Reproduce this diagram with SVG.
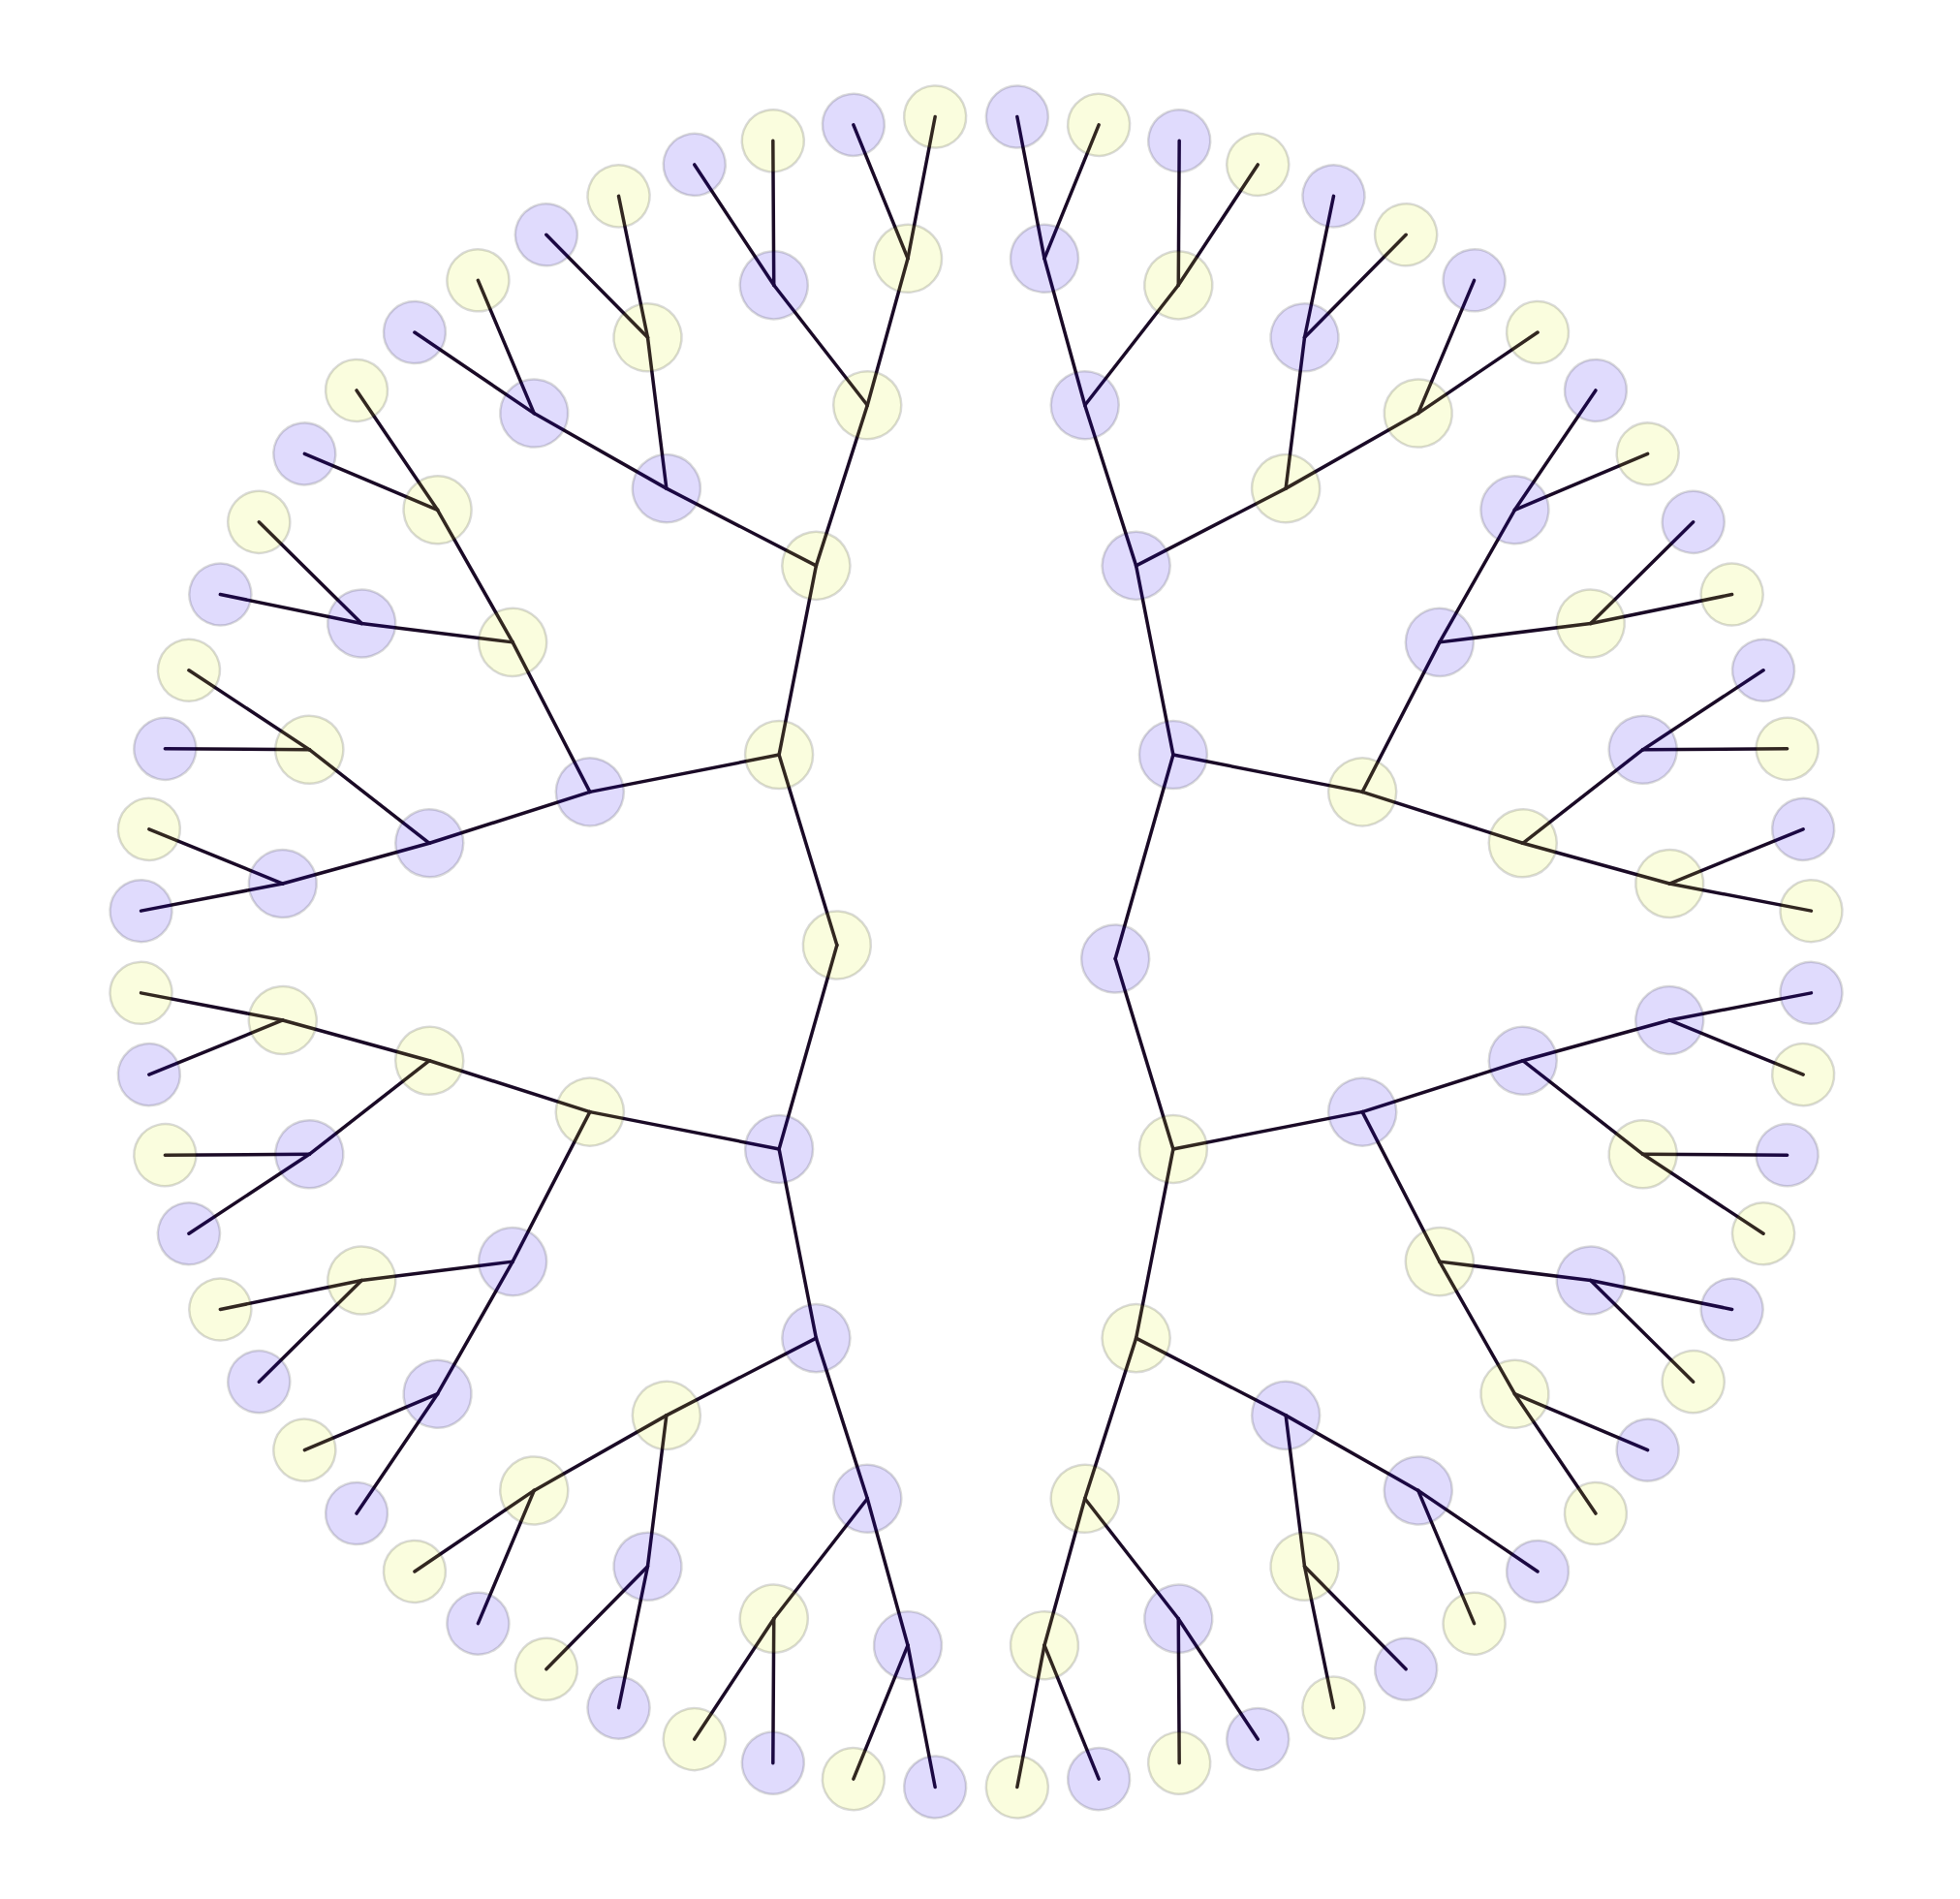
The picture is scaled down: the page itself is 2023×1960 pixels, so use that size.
<svg xmlns="http://www.w3.org/2000/svg" width="2023" height="1960" viewBox="0 0 2023 1960">
<style>
.links line{stroke:#1a0a26;stroke-width:3.5;stroke-linecap:round;fill:none}
.node circle{stroke:#000;stroke-opacity:0.15;stroke-width:2.5}
.y circle{fill:#d8f000;fill-opacity:0.13}
.p circle{fill:#2000f0;fill-opacity:0.14}
</style>
<rect width="2023" height="1960" fill="#fff"/>
<g transform="translate(1007.5 982.5)">
<g id="links" class="links">
<line transform="rotate(-45)" x1="0" y1="-287.67" x2="-96.59" y2="-106.57"/>
<line transform="rotate(-135)" x1="0" y1="-287.67" x2="106.57" y2="-96.59"/>
<line transform="rotate(-225)" x1="0" y1="-287.67" x2="-96.59" y2="-106.57"/>
<line transform="rotate(-315)" x1="0" y1="-287.67" x2="106.57" y2="-96.59"/>
<line transform="rotate(-22.5)" x1="0" y1="-431.5" x2="-110.09" y2="-265.77"/>
<line transform="rotate(-67.5)" x1="0" y1="-431.5" x2="110.09" y2="-265.77"/>
<line transform="rotate(-112.5)" x1="0" y1="-431.5" x2="-110.09" y2="-265.77"/>
<line transform="rotate(-157.5)" x1="0" y1="-431.5" x2="110.09" y2="-265.77"/>
<line transform="rotate(-202.5)" x1="0" y1="-431.5" x2="-110.09" y2="-265.77"/>
<line transform="rotate(-247.5)" x1="0" y1="-431.5" x2="110.09" y2="-265.77"/>
<line transform="rotate(-292.5)" x1="0" y1="-431.5" x2="-110.09" y2="-265.77"/>
<line transform="rotate(-337.5)" x1="0" y1="-431.5" x2="110.09" y2="-265.77"/>
<line transform="rotate(-11.25)" x1="0" y1="-575.33" x2="-84.18" y2="-423.21"/>
<line transform="rotate(-33.75)" x1="0" y1="-575.33" x2="84.18" y2="-423.21"/>
<line transform="rotate(-56.25)" x1="0" y1="-575.33" x2="-84.18" y2="-423.21"/>
<line transform="rotate(-78.75)" x1="0" y1="-575.33" x2="84.18" y2="-423.21"/>
<line transform="rotate(-101.25)" x1="0" y1="-575.33" x2="-84.18" y2="-423.21"/>
<line transform="rotate(-123.75)" x1="0" y1="-575.33" x2="84.18" y2="-423.21"/>
<line transform="rotate(-146.25)" x1="0" y1="-575.33" x2="-84.18" y2="-423.21"/>
<line transform="rotate(-168.75)" x1="0" y1="-575.33" x2="84.18" y2="-423.21"/>
<line transform="rotate(-191.25)" x1="0" y1="-575.33" x2="-84.18" y2="-423.21"/>
<line transform="rotate(-213.75)" x1="0" y1="-575.33" x2="84.18" y2="-423.21"/>
<line transform="rotate(-236.25)" x1="0" y1="-575.33" x2="-84.18" y2="-423.21"/>
<line transform="rotate(-258.75)" x1="0" y1="-575.33" x2="84.18" y2="-423.21"/>
<line transform="rotate(-281.25)" x1="0" y1="-575.33" x2="-84.18" y2="-423.21"/>
<line transform="rotate(-303.75)" x1="0" y1="-575.33" x2="84.18" y2="-423.21"/>
<line transform="rotate(-326.25)" x1="0" y1="-575.33" x2="-84.18" y2="-423.21"/>
<line transform="rotate(-348.75)" x1="0" y1="-575.33" x2="84.18" y2="-423.21"/>
<line transform="rotate(-5.625)" x1="0" y1="-719.17" x2="-56.39" y2="-572.56"/>
<line transform="rotate(-16.875)" x1="0" y1="-719.17" x2="56.39" y2="-572.56"/>
<line transform="rotate(-28.125)" x1="0" y1="-719.17" x2="-56.39" y2="-572.56"/>
<line transform="rotate(-39.375)" x1="0" y1="-719.17" x2="56.39" y2="-572.56"/>
<line transform="rotate(-50.625)" x1="0" y1="-719.17" x2="-56.39" y2="-572.56"/>
<line transform="rotate(-61.875)" x1="0" y1="-719.17" x2="56.39" y2="-572.56"/>
<line transform="rotate(-73.125)" x1="0" y1="-719.17" x2="-56.39" y2="-572.56"/>
<line transform="rotate(-84.375)" x1="0" y1="-719.17" x2="56.39" y2="-572.56"/>
<line transform="rotate(-95.625)" x1="0" y1="-719.17" x2="-56.39" y2="-572.56"/>
<line transform="rotate(-106.875)" x1="0" y1="-719.17" x2="56.39" y2="-572.56"/>
<line transform="rotate(-118.125)" x1="0" y1="-719.17" x2="-56.39" y2="-572.56"/>
<line transform="rotate(-129.375)" x1="0" y1="-719.17" x2="56.39" y2="-572.56"/>
<line transform="rotate(-140.625)" x1="0" y1="-719.17" x2="-56.39" y2="-572.56"/>
<line transform="rotate(-151.875)" x1="0" y1="-719.17" x2="56.39" y2="-572.56"/>
<line transform="rotate(-163.125)" x1="0" y1="-719.17" x2="-56.39" y2="-572.56"/>
<line transform="rotate(-174.375)" x1="0" y1="-719.17" x2="56.39" y2="-572.56"/>
<line transform="rotate(-185.625)" x1="0" y1="-719.17" x2="-56.39" y2="-572.56"/>
<line transform="rotate(-196.875)" x1="0" y1="-719.17" x2="56.39" y2="-572.56"/>
<line transform="rotate(-208.125)" x1="0" y1="-719.17" x2="-56.39" y2="-572.56"/>
<line transform="rotate(-219.375)" x1="0" y1="-719.17" x2="56.39" y2="-572.56"/>
<line transform="rotate(-230.625)" x1="0" y1="-719.17" x2="-56.39" y2="-572.56"/>
<line transform="rotate(-241.875)" x1="0" y1="-719.17" x2="56.39" y2="-572.56"/>
<line transform="rotate(-253.125)" x1="0" y1="-719.17" x2="-56.39" y2="-572.56"/>
<line transform="rotate(-264.375)" x1="0" y1="-719.17" x2="56.39" y2="-572.56"/>
<line transform="rotate(-275.625)" x1="0" y1="-719.17" x2="-56.39" y2="-572.56"/>
<line transform="rotate(-286.875)" x1="0" y1="-719.17" x2="56.39" y2="-572.56"/>
<line transform="rotate(-298.125)" x1="0" y1="-719.17" x2="-56.39" y2="-572.56"/>
<line transform="rotate(-309.375)" x1="0" y1="-719.17" x2="56.39" y2="-572.56"/>
<line transform="rotate(-320.625)" x1="0" y1="-719.17" x2="-56.39" y2="-572.56"/>
<line transform="rotate(-331.875)" x1="0" y1="-719.17" x2="56.39" y2="-572.56"/>
<line transform="rotate(-343.125)" x1="0" y1="-719.17" x2="-56.39" y2="-572.56"/>
<line transform="rotate(-354.375)" x1="0" y1="-719.17" x2="56.39" y2="-572.56"/>
<line transform="rotate(-2.8125)" x1="0" y1="-863" x2="-35.29" y2="-718.3"/>
<line transform="rotate(-8.4375)" x1="0" y1="-863" x2="35.29" y2="-718.3"/>
<line transform="rotate(-14.0625)" x1="0" y1="-863" x2="-35.29" y2="-718.3"/>
<line transform="rotate(-19.6875)" x1="0" y1="-863" x2="35.29" y2="-718.3"/>
<line transform="rotate(-25.3125)" x1="0" y1="-863" x2="-35.29" y2="-718.3"/>
<line transform="rotate(-30.9375)" x1="0" y1="-863" x2="35.29" y2="-718.3"/>
<line transform="rotate(-36.5625)" x1="0" y1="-863" x2="-35.29" y2="-718.3"/>
<line transform="rotate(-42.1875)" x1="0" y1="-863" x2="35.29" y2="-718.3"/>
<line transform="rotate(-47.8125)" x1="0" y1="-863" x2="-35.29" y2="-718.3"/>
<line transform="rotate(-53.4375)" x1="0" y1="-863" x2="35.29" y2="-718.3"/>
<line transform="rotate(-59.0625)" x1="0" y1="-863" x2="-35.29" y2="-718.3"/>
<line transform="rotate(-64.6875)" x1="0" y1="-863" x2="35.29" y2="-718.3"/>
<line transform="rotate(-70.3125)" x1="0" y1="-863" x2="-35.29" y2="-718.3"/>
<line transform="rotate(-75.9375)" x1="0" y1="-863" x2="35.29" y2="-718.3"/>
<line transform="rotate(-81.5625)" x1="0" y1="-863" x2="-35.29" y2="-718.3"/>
<line transform="rotate(-87.1875)" x1="0" y1="-863" x2="35.29" y2="-718.3"/>
<line transform="rotate(-92.8125)" x1="0" y1="-863" x2="-35.29" y2="-718.3"/>
<line transform="rotate(-98.4375)" x1="0" y1="-863" x2="35.29" y2="-718.3"/>
<line transform="rotate(-104.0625)" x1="0" y1="-863" x2="-35.29" y2="-718.3"/>
<line transform="rotate(-109.6875)" x1="0" y1="-863" x2="35.29" y2="-718.3"/>
<line transform="rotate(-115.3125)" x1="0" y1="-863" x2="-35.29" y2="-718.3"/>
<line transform="rotate(-120.9375)" x1="0" y1="-863" x2="35.29" y2="-718.3"/>
<line transform="rotate(-126.5625)" x1="0" y1="-863" x2="-35.29" y2="-718.3"/>
<line transform="rotate(-132.1875)" x1="0" y1="-863" x2="35.29" y2="-718.3"/>
<line transform="rotate(-137.8125)" x1="0" y1="-863" x2="-35.29" y2="-718.3"/>
<line transform="rotate(-143.4375)" x1="0" y1="-863" x2="35.29" y2="-718.3"/>
<line transform="rotate(-149.0625)" x1="0" y1="-863" x2="-35.29" y2="-718.3"/>
<line transform="rotate(-154.6875)" x1="0" y1="-863" x2="35.29" y2="-718.3"/>
<line transform="rotate(-160.3125)" x1="0" y1="-863" x2="-35.29" y2="-718.3"/>
<line transform="rotate(-165.9375)" x1="0" y1="-863" x2="35.29" y2="-718.3"/>
<line transform="rotate(-171.5625)" x1="0" y1="-863" x2="-35.29" y2="-718.3"/>
<line transform="rotate(-177.1875)" x1="0" y1="-863" x2="35.29" y2="-718.3"/>
<line transform="rotate(-182.8125)" x1="0" y1="-863" x2="-35.29" y2="-718.3"/>
<line transform="rotate(-188.4375)" x1="0" y1="-863" x2="35.29" y2="-718.3"/>
<line transform="rotate(-194.0625)" x1="0" y1="-863" x2="-35.29" y2="-718.3"/>
<line transform="rotate(-199.6875)" x1="0" y1="-863" x2="35.29" y2="-718.3"/>
<line transform="rotate(-205.3125)" x1="0" y1="-863" x2="-35.29" y2="-718.3"/>
<line transform="rotate(-210.9375)" x1="0" y1="-863" x2="35.29" y2="-718.3"/>
<line transform="rotate(-216.5625)" x1="0" y1="-863" x2="-35.29" y2="-718.3"/>
<line transform="rotate(-222.1875)" x1="0" y1="-863" x2="35.29" y2="-718.3"/>
<line transform="rotate(-227.8125)" x1="0" y1="-863" x2="-35.29" y2="-718.3"/>
<line transform="rotate(-233.4375)" x1="0" y1="-863" x2="35.29" y2="-718.3"/>
<line transform="rotate(-239.0625)" x1="0" y1="-863" x2="-35.29" y2="-718.3"/>
<line transform="rotate(-244.6875)" x1="0" y1="-863" x2="35.29" y2="-718.3"/>
<line transform="rotate(-250.3125)" x1="0" y1="-863" x2="-35.29" y2="-718.3"/>
<line transform="rotate(-255.9375)" x1="0" y1="-863" x2="35.29" y2="-718.3"/>
<line transform="rotate(-261.5625)" x1="0" y1="-863" x2="-35.29" y2="-718.3"/>
<line transform="rotate(-267.1875)" x1="0" y1="-863" x2="35.29" y2="-718.3"/>
<line transform="rotate(-272.8125)" x1="0" y1="-863" x2="-35.29" y2="-718.3"/>
<line transform="rotate(-278.4375)" x1="0" y1="-863" x2="35.29" y2="-718.3"/>
<line transform="rotate(-284.0625)" x1="0" y1="-863" x2="-35.29" y2="-718.3"/>
<line transform="rotate(-289.6875)" x1="0" y1="-863" x2="35.29" y2="-718.3"/>
<line transform="rotate(-295.3125)" x1="0" y1="-863" x2="-35.29" y2="-718.3"/>
<line transform="rotate(-300.9375)" x1="0" y1="-863" x2="35.29" y2="-718.3"/>
<line transform="rotate(-306.5625)" x1="0" y1="-863" x2="-35.29" y2="-718.3"/>
<line transform="rotate(-312.1875)" x1="0" y1="-863" x2="35.29" y2="-718.3"/>
<line transform="rotate(-317.8125)" x1="0" y1="-863" x2="-35.29" y2="-718.3"/>
<line transform="rotate(-323.4375)" x1="0" y1="-863" x2="35.29" y2="-718.3"/>
<line transform="rotate(-329.0625)" x1="0" y1="-863" x2="-35.29" y2="-718.3"/>
<line transform="rotate(-334.6875)" x1="0" y1="-863" x2="35.29" y2="-718.3"/>
<line transform="rotate(-340.3125)" x1="0" y1="-863" x2="-35.29" y2="-718.3"/>
<line transform="rotate(-345.9375)" x1="0" y1="-863" x2="35.29" y2="-718.3"/>
<line transform="rotate(-351.5625)" x1="0" y1="-863" x2="-35.29" y2="-718.3"/>
<line transform="rotate(-357.1875)" x1="0" y1="-863" x2="35.29" y2="-718.3"/>
</g>
<g id="nodes">
<g id="n1-0" class="node y"><circle transform="rotate(-87.1875)" cy="-143.83" r="35"/></g>
<g id="n1-1" class="node p"><circle transform="rotate(-267.1875)" cy="-143.83" r="35"/></g>
<g id="n2-0" class="node y"><circle transform="rotate(-45)" cy="-287.67" r="35"/></g>
<g id="n2-1" class="node p"><circle transform="rotate(-135)" cy="-287.67" r="35"/></g>
<g id="n2-2" class="node y"><circle transform="rotate(-225)" cy="-287.67" r="35"/></g>
<g id="n2-3" class="node p"><circle transform="rotate(-315)" cy="-287.67" r="35"/></g>
<g id="n3-0" class="node y"><circle transform="rotate(-22.5)" cy="-431.5" r="35"/></g>
<g id="n3-1" class="node p"><circle transform="rotate(-67.5)" cy="-431.5" r="35"/></g>
<g id="n3-2" class="node y"><circle transform="rotate(-112.5)" cy="-431.5" r="35"/></g>
<g id="n3-3" class="node p"><circle transform="rotate(-157.5)" cy="-431.5" r="35"/></g>
<g id="n3-4" class="node y"><circle transform="rotate(-202.5)" cy="-431.5" r="35"/></g>
<g id="n3-5" class="node p"><circle transform="rotate(-247.5)" cy="-431.5" r="35"/></g>
<g id="n3-6" class="node y"><circle transform="rotate(-292.5)" cy="-431.5" r="35"/></g>
<g id="n3-7" class="node p"><circle transform="rotate(-337.5)" cy="-431.5" r="35"/></g>
<g id="n4-0" class="node y"><circle transform="rotate(-11.25)" cy="-575.33" r="35"/></g>
<g id="n4-1" class="node p"><circle transform="rotate(-33.75)" cy="-575.33" r="35"/></g>
<g id="n4-2" class="node y"><circle transform="rotate(-56.25)" cy="-575.33" r="35"/></g>
<g id="n4-3" class="node p"><circle transform="rotate(-78.75)" cy="-575.33" r="35"/></g>
<g id="n4-4" class="node y"><circle transform="rotate(-101.25)" cy="-575.33" r="35"/></g>
<g id="n4-5" class="node p"><circle transform="rotate(-123.75)" cy="-575.33" r="35"/></g>
<g id="n4-6" class="node y"><circle transform="rotate(-146.25)" cy="-575.33" r="35"/></g>
<g id="n4-7" class="node p"><circle transform="rotate(-168.75)" cy="-575.33" r="35"/></g>
<g id="n4-8" class="node y"><circle transform="rotate(-191.25)" cy="-575.33" r="35"/></g>
<g id="n4-9" class="node p"><circle transform="rotate(-213.75)" cy="-575.33" r="35"/></g>
<g id="n4-10" class="node y"><circle transform="rotate(-236.25)" cy="-575.33" r="35"/></g>
<g id="n4-11" class="node p"><circle transform="rotate(-258.75)" cy="-575.33" r="35"/></g>
<g id="n4-12" class="node y"><circle transform="rotate(-281.25)" cy="-575.33" r="35"/></g>
<g id="n4-13" class="node p"><circle transform="rotate(-303.75)" cy="-575.33" r="35"/></g>
<g id="n4-14" class="node y"><circle transform="rotate(-326.25)" cy="-575.33" r="35"/></g>
<g id="n4-15" class="node p"><circle transform="rotate(-348.75)" cy="-575.33" r="35"/></g>
<g id="n5-0" class="node y"><circle transform="rotate(-5.625)" cy="-719.17" r="35"/></g>
<g id="n5-1" class="node p"><circle transform="rotate(-16.875)" cy="-719.17" r="35"/></g>
<g id="n5-2" class="node y"><circle transform="rotate(-28.125)" cy="-719.17" r="35"/></g>
<g id="n5-3" class="node p"><circle transform="rotate(-39.375)" cy="-719.17" r="35"/></g>
<g id="n5-4" class="node y"><circle transform="rotate(-50.625)" cy="-719.17" r="35"/></g>
<g id="n5-5" class="node p"><circle transform="rotate(-61.875)" cy="-719.17" r="35"/></g>
<g id="n5-6" class="node y"><circle transform="rotate(-73.125)" cy="-719.17" r="35"/></g>
<g id="n5-7" class="node p"><circle transform="rotate(-84.375)" cy="-719.17" r="35"/></g>
<g id="n5-8" class="node y"><circle transform="rotate(-95.625)" cy="-719.17" r="35"/></g>
<g id="n5-9" class="node p"><circle transform="rotate(-106.875)" cy="-719.17" r="35"/></g>
<g id="n5-10" class="node y"><circle transform="rotate(-118.125)" cy="-719.17" r="35"/></g>
<g id="n5-11" class="node p"><circle transform="rotate(-129.375)" cy="-719.17" r="35"/></g>
<g id="n5-12" class="node y"><circle transform="rotate(-140.625)" cy="-719.17" r="35"/></g>
<g id="n5-13" class="node p"><circle transform="rotate(-151.875)" cy="-719.17" r="35"/></g>
<g id="n5-14" class="node y"><circle transform="rotate(-163.125)" cy="-719.17" r="35"/></g>
<g id="n5-15" class="node p"><circle transform="rotate(-174.375)" cy="-719.17" r="35"/></g>
<g id="n5-16" class="node y"><circle transform="rotate(-185.625)" cy="-719.17" r="35"/></g>
<g id="n5-17" class="node p"><circle transform="rotate(-196.875)" cy="-719.17" r="35"/></g>
<g id="n5-18" class="node y"><circle transform="rotate(-208.125)" cy="-719.17" r="35"/></g>
<g id="n5-19" class="node p"><circle transform="rotate(-219.375)" cy="-719.17" r="35"/></g>
<g id="n5-20" class="node y"><circle transform="rotate(-230.625)" cy="-719.17" r="35"/></g>
<g id="n5-21" class="node p"><circle transform="rotate(-241.875)" cy="-719.17" r="35"/></g>
<g id="n5-22" class="node y"><circle transform="rotate(-253.125)" cy="-719.17" r="35"/></g>
<g id="n5-23" class="node p"><circle transform="rotate(-264.375)" cy="-719.17" r="35"/></g>
<g id="n5-24" class="node y"><circle transform="rotate(-275.625)" cy="-719.17" r="35"/></g>
<g id="n5-25" class="node p"><circle transform="rotate(-286.875)" cy="-719.17" r="35"/></g>
<g id="n5-26" class="node y"><circle transform="rotate(-298.125)" cy="-719.17" r="35"/></g>
<g id="n5-27" class="node p"><circle transform="rotate(-309.375)" cy="-719.17" r="35"/></g>
<g id="n5-28" class="node y"><circle transform="rotate(-320.625)" cy="-719.17" r="35"/></g>
<g id="n5-29" class="node p"><circle transform="rotate(-331.875)" cy="-719.17" r="35"/></g>
<g id="n5-30" class="node y"><circle transform="rotate(-343.125)" cy="-719.17" r="35"/></g>
<g id="n5-31" class="node p"><circle transform="rotate(-354.375)" cy="-719.17" r="35"/></g>
<g id="n6-0" class="node y"><circle transform="rotate(-2.8125)" cy="-863" r="32"/></g>
<g id="n6-1" class="node p"><circle transform="rotate(-8.4375)" cy="-863" r="32"/></g>
<g id="n6-2" class="node y"><circle transform="rotate(-14.0625)" cy="-863" r="32"/></g>
<g id="n6-3" class="node p"><circle transform="rotate(-19.6875)" cy="-863" r="32"/></g>
<g id="n6-4" class="node y"><circle transform="rotate(-25.3125)" cy="-863" r="32"/></g>
<g id="n6-5" class="node p"><circle transform="rotate(-30.9375)" cy="-863" r="32"/></g>
<g id="n6-6" class="node y"><circle transform="rotate(-36.5625)" cy="-863" r="32"/></g>
<g id="n6-7" class="node p"><circle transform="rotate(-42.1875)" cy="-863" r="32"/></g>
<g id="n6-8" class="node y"><circle transform="rotate(-47.8125)" cy="-863" r="32"/></g>
<g id="n6-9" class="node p"><circle transform="rotate(-53.4375)" cy="-863" r="32"/></g>
<g id="n6-10" class="node y"><circle transform="rotate(-59.0625)" cy="-863" r="32"/></g>
<g id="n6-11" class="node p"><circle transform="rotate(-64.6875)" cy="-863" r="32"/></g>
<g id="n6-12" class="node y"><circle transform="rotate(-70.3125)" cy="-863" r="32"/></g>
<g id="n6-13" class="node p"><circle transform="rotate(-75.9375)" cy="-863" r="32"/></g>
<g id="n6-14" class="node y"><circle transform="rotate(-81.5625)" cy="-863" r="32"/></g>
<g id="n6-15" class="node p"><circle transform="rotate(-87.1875)" cy="-863" r="32"/></g>
<g id="n6-16" class="node y"><circle transform="rotate(-92.8125)" cy="-863" r="32"/></g>
<g id="n6-17" class="node p"><circle transform="rotate(-98.4375)" cy="-863" r="32"/></g>
<g id="n6-18" class="node y"><circle transform="rotate(-104.0625)" cy="-863" r="32"/></g>
<g id="n6-19" class="node p"><circle transform="rotate(-109.6875)" cy="-863" r="32"/></g>
<g id="n6-20" class="node y"><circle transform="rotate(-115.3125)" cy="-863" r="32"/></g>
<g id="n6-21" class="node p"><circle transform="rotate(-120.9375)" cy="-863" r="32"/></g>
<g id="n6-22" class="node y"><circle transform="rotate(-126.5625)" cy="-863" r="32"/></g>
<g id="n6-23" class="node p"><circle transform="rotate(-132.1875)" cy="-863" r="32"/></g>
<g id="n6-24" class="node y"><circle transform="rotate(-137.8125)" cy="-863" r="32"/></g>
<g id="n6-25" class="node p"><circle transform="rotate(-143.4375)" cy="-863" r="32"/></g>
<g id="n6-26" class="node y"><circle transform="rotate(-149.0625)" cy="-863" r="32"/></g>
<g id="n6-27" class="node p"><circle transform="rotate(-154.6875)" cy="-863" r="32"/></g>
<g id="n6-28" class="node y"><circle transform="rotate(-160.3125)" cy="-863" r="32"/></g>
<g id="n6-29" class="node p"><circle transform="rotate(-165.9375)" cy="-863" r="32"/></g>
<g id="n6-30" class="node y"><circle transform="rotate(-171.5625)" cy="-863" r="32"/></g>
<g id="n6-31" class="node p"><circle transform="rotate(-177.1875)" cy="-863" r="32"/></g>
<g id="n6-32" class="node y"><circle transform="rotate(-182.8125)" cy="-863" r="32"/></g>
<g id="n6-33" class="node p"><circle transform="rotate(-188.4375)" cy="-863" r="32"/></g>
<g id="n6-34" class="node y"><circle transform="rotate(-194.0625)" cy="-863" r="32"/></g>
<g id="n6-35" class="node p"><circle transform="rotate(-199.6875)" cy="-863" r="32"/></g>
<g id="n6-36" class="node y"><circle transform="rotate(-205.3125)" cy="-863" r="32"/></g>
<g id="n6-37" class="node p"><circle transform="rotate(-210.9375)" cy="-863" r="32"/></g>
<g id="n6-38" class="node y"><circle transform="rotate(-216.5625)" cy="-863" r="32"/></g>
<g id="n6-39" class="node p"><circle transform="rotate(-222.1875)" cy="-863" r="32"/></g>
<g id="n6-40" class="node y"><circle transform="rotate(-227.8125)" cy="-863" r="32"/></g>
<g id="n6-41" class="node p"><circle transform="rotate(-233.4375)" cy="-863" r="32"/></g>
<g id="n6-42" class="node y"><circle transform="rotate(-239.0625)" cy="-863" r="32"/></g>
<g id="n6-43" class="node p"><circle transform="rotate(-244.6875)" cy="-863" r="32"/></g>
<g id="n6-44" class="node y"><circle transform="rotate(-250.3125)" cy="-863" r="32"/></g>
<g id="n6-45" class="node p"><circle transform="rotate(-255.9375)" cy="-863" r="32"/></g>
<g id="n6-46" class="node y"><circle transform="rotate(-261.5625)" cy="-863" r="32"/></g>
<g id="n6-47" class="node p"><circle transform="rotate(-267.1875)" cy="-863" r="32"/></g>
<g id="n6-48" class="node y"><circle transform="rotate(-272.8125)" cy="-863" r="32"/></g>
<g id="n6-49" class="node p"><circle transform="rotate(-278.4375)" cy="-863" r="32"/></g>
<g id="n6-50" class="node y"><circle transform="rotate(-284.0625)" cy="-863" r="32"/></g>
<g id="n6-51" class="node p"><circle transform="rotate(-289.6875)" cy="-863" r="32"/></g>
<g id="n6-52" class="node y"><circle transform="rotate(-295.3125)" cy="-863" r="32"/></g>
<g id="n6-53" class="node p"><circle transform="rotate(-300.9375)" cy="-863" r="32"/></g>
<g id="n6-54" class="node y"><circle transform="rotate(-306.5625)" cy="-863" r="32"/></g>
<g id="n6-55" class="node p"><circle transform="rotate(-312.1875)" cy="-863" r="32"/></g>
<g id="n6-56" class="node y"><circle transform="rotate(-317.8125)" cy="-863" r="32"/></g>
<g id="n6-57" class="node p"><circle transform="rotate(-323.4375)" cy="-863" r="32"/></g>
<g id="n6-58" class="node y"><circle transform="rotate(-329.0625)" cy="-863" r="32"/></g>
<g id="n6-59" class="node p"><circle transform="rotate(-334.6875)" cy="-863" r="32"/></g>
<g id="n6-60" class="node y"><circle transform="rotate(-340.3125)" cy="-863" r="32"/></g>
<g id="n6-61" class="node p"><circle transform="rotate(-345.9375)" cy="-863" r="32"/></g>
<g id="n6-62" class="node y"><circle transform="rotate(-351.5625)" cy="-863" r="32"/></g>
<g id="n6-63" class="node p"><circle transform="rotate(-357.1875)" cy="-863" r="32"/></g>
</g>
</g>
</svg>
